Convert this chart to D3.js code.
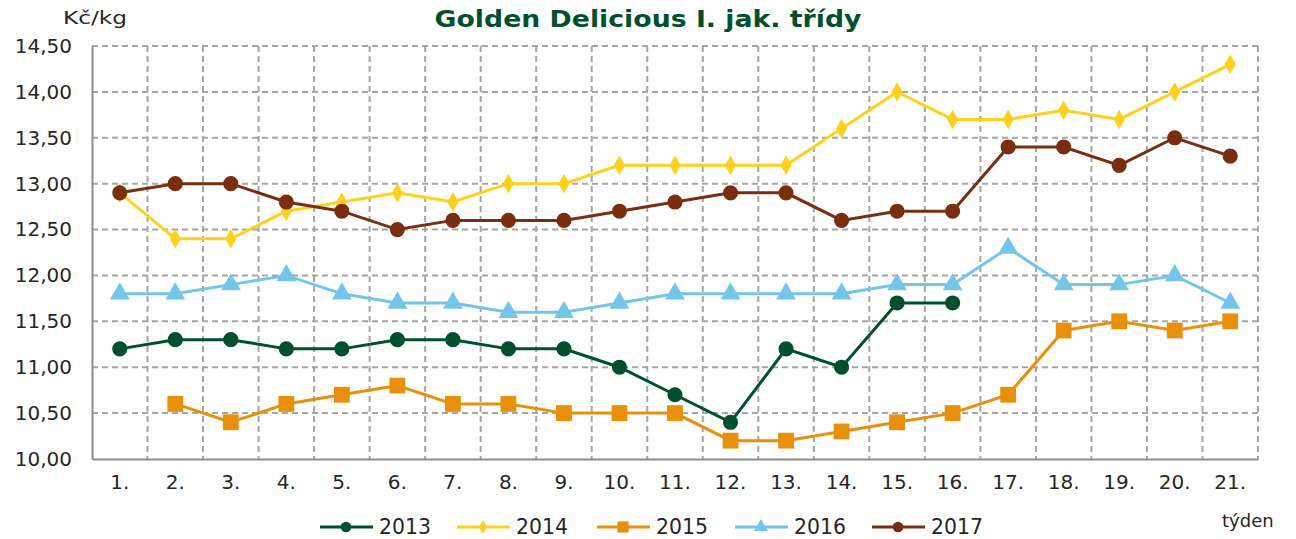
<!DOCTYPE html>
<html>
<head>
<meta charset="utf-8">
<script src="https://cdn.jsdelivr.net/npm/d3@7"></script>
<style>
  body { margin: 0; background: #fff; }
  text { font-family: "DejaVu Sans", Verdana, sans-serif; fill: #262626; }
</style>
</head>
<body>
<div id="chart"></div>
<script>
// weeks and yearly price series (Kč/kg)
const weeks = ["1.", "2.", "3.", "4.", "5.", "6.", "7.", "8.", "9.", "10.", "11.",
    "12.", "13.", "14.", "15.", "16.", "17.", "18.", "19.", "20.", "21."];
const y2013 = [11.2, 11.3, 11.3, 11.2, 11.2, 11.3, 11.3, 11.2, 11.2, 11.0, 10.7,
    10.4, 11.2, 11.0, 11.7, 11.7, null, null, null, null, null];
const y2014 = [12.9, 12.4, 12.4, 12.7, 12.8, 12.9, 12.8, 13.0, 13.0, 13.2, 13.2,
    13.2, 13.2, 13.6, 14.0, 13.7, 13.7, 13.8, 13.7, 14.0, 14.3];
const y2015 = [null, 10.6, 10.4, 10.6, 10.7, 10.8, 10.6, 10.6, 10.5, 10.5, 10.5,
    10.2, 10.2, 10.3, 10.4, 10.5, 10.7, 11.4, 11.5, 11.4, 11.5];
const y2016 = [11.8, 11.8, 11.9, 12.0, 11.8, 11.7, 11.7, 11.6, 11.6, 11.7, 11.8,
    11.8, 11.8, 11.8, 11.9, 11.9, 12.3, 11.9, 11.9, 12.0, 11.7];
const y2017 = [12.9, 13.0, 13.0, 12.8, 12.7, 12.5, 12.6, 12.6, 12.6, 12.7, 12.8,
    12.9, 12.9, 12.6, 12.7, 12.7, 13.4, 13.4, 13.2, 13.5, 13.3];
const yTicks = [10, 10.5, 11, 11.5, 12, 12.5, 13, 13.5, 14, 14.5];

const series = [
    { name: "2013", values: y2013, color: "#00502f", symbol: d3.symbolCircle, size: 180 },
    { name: "2014", values: y2014, color: "#fdd11d", symbol: d3.symbolDiamond, size: 110 },
    { name: "2015", values: y2015, color: "#e8900a", symbol: d3.symbolSquare, size: 250 },
    { name: "2016", values: y2016, color: "#74c5ea", symbol: d3.symbolTriangle, size: 170 },
    { name: "2017", values: y2017, color: "#7a2e10", symbol: d3.symbolCircle, size: 180 }
];

const width = 1296, height = 539;
const mLeft = 92, mRight = 1258, mTop = 46, mBottom = 459;

const svg = d3.select("#chart")
    .append("svg")
    .attr("width", width)
    .attr("height", height);

const x = d3.scaleBand().domain(weeks).range([mLeft, mRight]);
const y = d3.scaleLinear().domain([10, 14.5]).range([mBottom, mTop]);

// grid
const grid = svg.append("g")
    .attr("stroke", "#a6a6a6")
    .attr("stroke-width", 2)
    .attr("stroke-dasharray", "6,4");
grid.selectAll(".hgrid")
    .data(yTicks.slice(1))
    .enter()
    .append("line")
    .attr("x1", mLeft).attr("x2", mRight)
    .attr("y1", d => y(d)).attr("y2", d => y(d));
grid.selectAll(".vgrid")
    .data(weeks.slice(1).concat([null]))
    .enter()
    .append("line")
    .attr("x1", d => d ? x(d) : mRight)
    .attr("x2", d => d ? x(d) : mRight)
    .attr("y1", mTop).attr("y2", mBottom);

// axes
const yAxis = svg.append("g")
    .attr("transform", `translate(${mLeft},0)`)
    .call(d3.axisLeft(y).tickValues(yTicks).tickSize(0).tickPadding(20)
        .tickFormat(d => d3.format(".2f")(d).replace(".", ",")));
yAxis.select(".domain").attr("stroke", "#8c8c8c").attr("stroke-width", 2);
yAxis.selectAll("text").style("font-size", "20px").attr("fill", "#262626");

const xAxis = svg.append("g")
    .attr("transform", `translate(0,${mBottom})`)
    .call(d3.axisBottom(x).tickSize(0).tickPadding(16));
xAxis.select(".domain").attr("stroke", "#8c8c8c").attr("stroke-width", 2);
xAxis.selectAll("text").style("font-size", "20px").attr("fill", "#262626");

// lines and markers
const line = d3.line()
    .defined(d => d.v != null)
    .x(d => x(d.w) + x.bandwidth() / 2)
    .y(d => y(d.v));

series.forEach(s => {
    const pts = s.values.map((v, i) => ({ w: weeks[i], v: v }));
    svg.append("path")
        .datum(pts)
        .attr("fill", "none")
        .attr("stroke", s.color)
        .attr("stroke-width", 3)
        .attr("d", line);
    svg.append("g").selectAll("path")
        .data(pts.filter(d => d.v != null))
        .enter()
        .append("path")
        .attr("d", d3.symbol().type(s.symbol).size(s.size))
        .attr("fill", s.color)
        .attr("transform", d => `translate(${x(d.w) + x.bandwidth() / 2},${y(d.v)})`);
});

// titles
svg.append("text")
    .attr("x", 648).attr("y", 27)
    .attr("text-anchor", "middle")
    .attr("textLength", 427).attr("lengthAdjust", "spacingAndGlyphs")
    .style("font-size", "23px").style("font-weight", "bold").style("fill", "#00502f")
    .text("Golden Delicious I. jak. třídy");
svg.append("text")
    .attr("x", 63).attr("y", 24)
    .attr("textLength", 64).attr("lengthAdjust", "spacingAndGlyphs")
    .style("font-size", "18px")
    .text("Kč/kg");
svg.append("text")
    .attr("x", 1222).attr("y", 527)
    .style("font-size", "18px")
    .text("týden");

// legend
const legendX = [320, 457, 597, 735, 872];
const legend = svg.append("g")
    .selectAll("g")
    .data(series)
    .enter()
    .append("g")
    .attr("transform", (d, i) => `translate(${legendX[i]},527)`);
legend.append("line")
    .attr("x1", 0).attr("x2", 53)
    .attr("stroke", d => d.color)
    .attr("stroke-width", 3);
legend.append("path")
    .attr("d", d => d3.symbol().type(d.symbol).size(d.size * 0.5)())
    .attr("fill", d => d.color)
    .attr("transform", "translate(26,0)");
legend.append("text")
    .attr("x", 59).attr("y", 7)
    .attr("textLength", 52).attr("lengthAdjust", "spacingAndGlyphs")
    .style("font-size", "21px")
    .text(d => d.name);
</script>
</body>
</html>
